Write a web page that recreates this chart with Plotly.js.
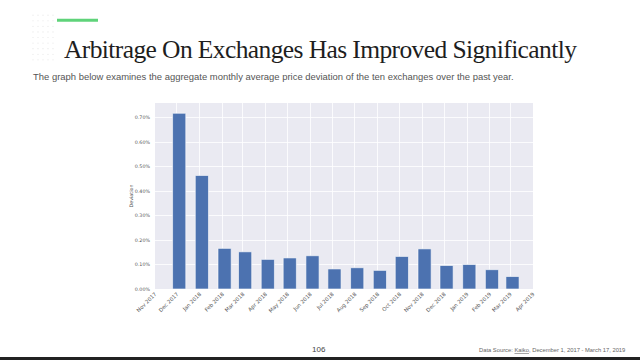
<!DOCTYPE html>
<html><head><meta charset="utf-8">
<script src="https://cdn.plot.ly/plotly-3.0.1.min.js"></script>
<style>html,body{margin:0;padding:0;background:#fff;}#c{width:640px;height:360px;}
.gtitle{letter-spacing:-0.6px;}</style>
</head><body><div id="c"></div>
<script>
// Data
const months = ["2017-12","2018-01","2018-02","2018-03","2018-04","2018-05","2018-06","2018-07","2018-08","2018-09","2018-10","2018-11","2018-12","2019-01","2019-02","2019-03"];
const deviation = [0.00718,0.00464,0.00166,0.00152,0.00121,0.00127,0.00136,0.00082,0.00087,0.00076,0.00133,0.00164,0.00096,0.00100,0.00079,0.00051];
const titleText = "Arbitrage On Exchanges Has Improved Significantly";
const subtitleText = "The graph below examines the aggregate monthly average price deviation of the ten exchanges over the past year.";
const sourceText = "Data Source: <u>Kaiko</u>, December 1, 2017 - March 17, 2019";
const pageNumber = "106";

const W = 640, H = 360;
const L = 155, R = 533, T = 103, B = 289.3;
const px = x => (x - L) / (R - L);
const py = y => (B - y) / (B - T);

const barX = months.map(m => m + "-04");

const trace = {
  type: "bar",
  x: barX,
  y: deviation,
  width: 18 * 86400000,
  marker: {color: "#4C72B0", line: {color: "#ffffff", width: 0.6}},
  hoverinfo: "skip"
};

const tickFont = {family: "DejaVu Sans, sans-serif", size: 5.3, color: "#555"};

// decorative dot grid (top-left)
const dots = [];
for (let i = 0; i < 5; i++) {
  for (let j = 0; j < 9; j++) {
    const cx = 33 + i * 5, cy = 15 + j * 5.6;
    dots.push({type: "circle", xref: "paper", yref: "paper",
      x0: px(cx - 0.6), x1: px(cx + 0.6), y0: py(cy + 0.6), y1: py(cy - 0.6),
      line: {width: 0}, fillcolor: "#e6e6e6"});
  }
}

const layout = {
  width: W, height: H,
  paper_bgcolor: "#ffffff",
  plot_bgcolor: "#EAEAF2",
  margin: {l: L, r: W - R, t: T, b: H - B, pad: 0},
  showlegend: false,
  bargap: 0,
  title: {
    text: titleText,
    font: {family: "Liberation Serif, serif", size: 25.5, color: "#1e1e1e"},
    xref: "container", yref: "container",
    x: 0.1, xanchor: "left",
    y: 1 - 58 / H, yanchor: "bottom"
  },
  xaxis: {
    type: "date",
    range: ["2017-11-01", "2019-04-01"],
    dtick: "M1",
    tick0: "2017-11-01",
    tickformat: "%b %Y",
    tickangle: -45,
    tickfont: tickFont,
    showgrid: true, gridcolor: "#ffffff", gridwidth: 0.8,
    zeroline: false, showline: false,
    ticks: "", ticklen: 0
  },
  yaxis: {
    range: [0, 0.0076],
    dtick: 0.001,
    tickformat: ".2%",
    tickfont: {family: "DejaVu Sans, sans-serif", size: 4.8, color: "#555"},
    showgrid: true, gridcolor: "#ffffff", gridwidth: 0.8,
    zeroline: false, showline: false,
    ticks: "", ticklen: 0,
    ticklabelstandoff: 4,
    title: {text: "Deviation", font: {family: "DejaVu Sans, sans-serif", size: 4.8, color: "#555"}, standoff: 1}
  },
  shapes: [
    {type: "line", xref: "paper", yref: "paper", x0: px(57), x1: px(98), y0: py(20), y1: py(20), line: {color: "#5fd37a", width: 3}},
    {type: "rect", xref: "paper", yref: "paper", x0: px(-5), x1: px(645), y0: py(357.5), y1: py(365), line: {width: 0}, fillcolor: "#222222"}
  ].concat(dots),
  annotations: [
    {text: subtitleText, xref: "paper", yref: "paper", x: px(31), y: py(76), xanchor: "left", yanchor: "middle", showarrow: false,
     font: {family: "Liberation Sans, Arial, sans-serif", size: 9.45, color: "#555"}},
    {text: pageNumber, xref: "paper", yref: "paper", x: px(319), y: py(350), xanchor: "center", yanchor: "middle", showarrow: false,
     font: {family: "Liberation Sans, Arial, sans-serif", size: 8, color: "#444"}},
    {text: sourceText, xref: "paper", yref: "paper", x: px(627), y: py(350), xanchor: "right", yanchor: "middle", showarrow: false,
     font: {family: "Liberation Sans, Arial, sans-serif", size: 5.8, color: "#666"}}
  ]
};

Plotly.newPlot("c", [trace], layout, {staticPlot: true, displayModeBar: false});
</script>
</body></html>
